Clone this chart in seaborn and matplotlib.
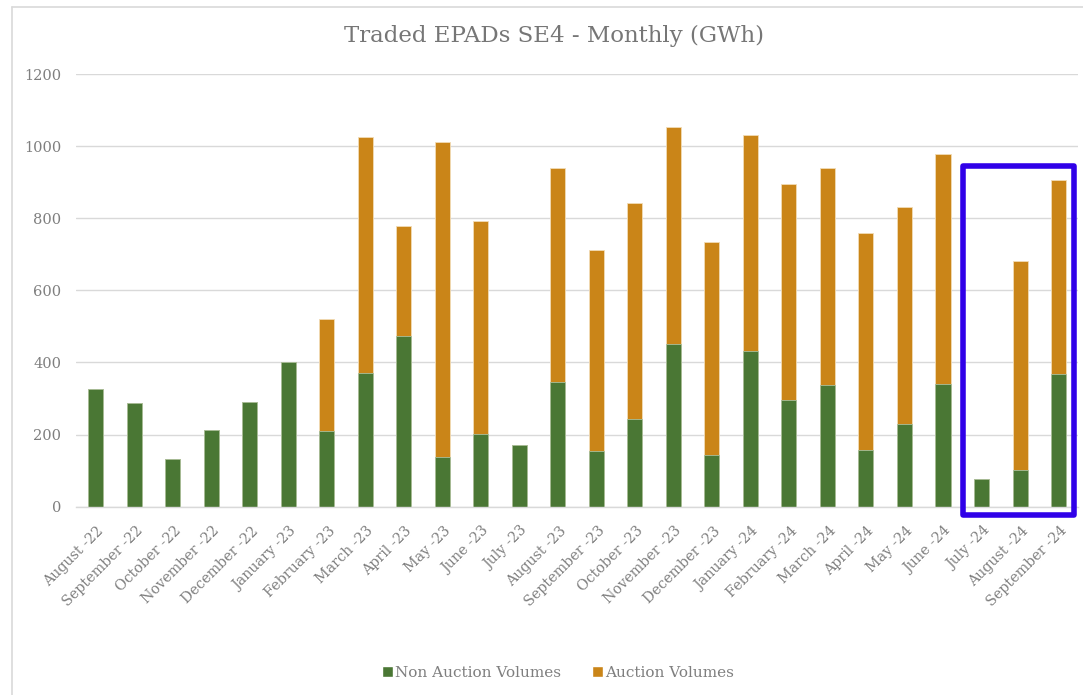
import numpy as np
import pandas as pd
import matplotlib
matplotlib.use("Agg")
import matplotlib.pyplot as plt
import matplotlib.transforms as mtransforms
from matplotlib.patches import Patch, Rectangle
from matplotlib.lines import Line2D
import seaborn as sns

MONTHS = [
    "August -22", "September -22", "October -22", "November -22", "December -22",
    "January -23", "February -23", "March -23", "April -23", "May -23", "June -23",
    "July -23", "August -23", "September -23", "October -23", "November -23",
    "December -23", "January -24", "February -24", "March -24", "April -24",
    "May -24", "June -24", "July -24", "August -24", "September -24",
]
NON_AUCTION = [326, 289, 131, 212, 290, 401, 211, 372, 474, 138, 202,
               171, 346, 154, 243, 451, 144, 433, 295, 338, 158,
               230, 341, 77, 103, 369]
TOTAL = [326, 289, 131, 212, 290, 401, 520, 1024, 779, 1012, 791,
         171, 939, 712, 842, 1052, 735, 1032, 895, 939, 759,
         830, 979, 77, 682, 905]
AUCTION = [t - n for t, n in zip(TOTAL, NON_AUCTION)]

GREEN = "#4a7734"
ORANGE = "#ca8518"
GRID = "#d9d9d9"
TEXT = "#7f7f7f"
BOX = "#3000e8"

df = pd.DataFrame({"month": MONTHS, "non": NON_AUCTION,
                   "auction": AUCTION, "total": TOTAL})

sns.set_theme(style="white")
plt.rcParams["font.family"] = ["DejaVu Serif", "DejaVu Sans"]

fig = plt.figure(figsize=(10.83, 6.95), dpi=100)
fig.patch.set_facecolor("white")
ax = fig.add_axes([0.0706, 0.2709, 0.9246, 0.6226])

# stacked: full height in orange, green drawn over the lower part
sns.barplot(data=df, x="month", y="total", color=ORANGE, saturation=1,
            width=0.39, ax=ax, edgecolor="#f2dcb5", linewidth=0.6)
sns.barplot(data=df, x="month", y="non", color=GREEN, saturation=1,
            width=0.39, ax=ax, edgecolor="#a9bf9c", linewidth=0.6)

ax.set_xlim(-0.5, len(MONTHS) - 0.5)
ax.set_ylim(0, 1200)
ax.set_yticks(np.arange(0, 1201, 200))
ax.grid(axis="y", color=GRID, linewidth=1.0)
ax.set_axisbelow(True)
for side in ["top", "right", "left"]:
    ax.spines[side].set_visible(False)
ax.spines["bottom"].set_color(GRID)
ax.spines["bottom"].set_linewidth(1.0)
ax.set_xlabel("")
ax.set_ylabel("")
ax.tick_params(axis="y", length=0, pad=11, labelsize=10.5, labelcolor=TEXT)
ax.tick_params(axis="x", length=0, pad=0, labelsize=10.3, labelcolor=TEXT)

offset = mtransforms.ScaledTranslation(0.06, -0.22, fig.dpi_scale_trans)
for lbl in ax.get_xticklabels():
    lbl.set_rotation(45)
    lbl.set_ha("right")
    lbl.set_va("center")
    lbl.set_rotation_mode("anchor")
    lbl.set_transform(lbl.get_transform() + offset)

# highlight box around the last three months
ax.add_patch(Rectangle((22.52, -22), 2.88, 968, fill=False, edgecolor=BOX,
                       linewidth=4, joinstyle="round", clip_on=False, zorder=6))

fig.text(0.512, 1 - 36 / 695, "Traded EPADs SE4 - Monthly (GWh)",
         ha="center", va="center", fontsize=16.5, color="#767676")

handles = [Patch(facecolor=GREEN, label="Non Auction Volumes"),
           Patch(facecolor=ORANGE, label="Auction Volumes")]
fig.legend(handles=handles, loc="center", bbox_to_anchor=(558 / 1083, 1 - 673 / 695),
           ncol=2, frameon=False, fontsize=11, labelcolor=TEXT,
           handlelength=0.75, handleheight=0.75, handletextpad=0.15,
           columnspacing=2.0)

# chart-area frame (top and left edges visible)
fig.add_artist(Line2D([12 / 1083, 12 / 1083], [0, 1 - 7 / 695],
                      transform=fig.transFigure, color=GRID, linewidth=1.2))
fig.add_artist(Line2D([12 / 1083, 1], [1 - 7 / 695, 1 - 7 / 695],
                      transform=fig.transFigure, color=GRID, linewidth=1.2))

fig.savefig("out.png", dpi=100, facecolor="white")
